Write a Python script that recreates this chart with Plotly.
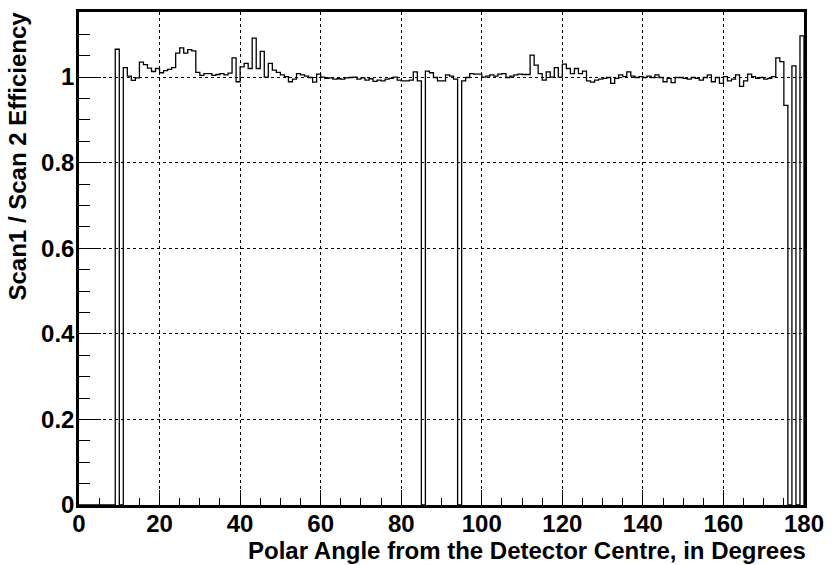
import plotly.graph_objects as go

# Bin lower edges (1 degree bins, 0..179)
bin_low = list(range(0, 180))
bin_width = 1.0

# Scan1 / Scan2 efficiency per 1-degree bin
efficiency = [
    0, 0, 0, 0, 0, 0, 0, 0, 0, 1.065,              # 0-9
    0, 1.022, 1.002, 0.992, 0.998, 1.035, 1.029, 1.021, 1.013, 1.020,   # 10-19
    1.010, 1.015, 1.018, 1.022, 1.056, 1.068, 1.056, 1.064, 1.061, 1.011,  # 20-29
    1.004, 1.008, 1.008, 1.004, 1.006, 1.008, 1.005, 1.009, 1.045, 0.989,  # 30-39
    1.024, 1.032, 1.020, 1.091, 1.020, 1.060, 1.000, 1.032, 1.016, 1.011,  # 40-49
    1.005, 1.001, 0.989, 0.995, 1.008, 1.005, 1.002, 0.999, 0.988, 1.007,  # 50-59
    1.000, 0.997, 0.998, 0.995, 0.996, 0.995, 0.998, 0.999, 1.000, 0.995,  # 60-69
    0.998, 0.993, 0.996, 0.990, 0.993, 0.991, 0.995, 0.997, 1.000, 0.993,  # 70-79
    0.991, 0.991, 0.993, 1.012, 0.991, 0, 1.014, 1.010, 0.999, 0.991,      # 80-89
    0.991, 1.005, 1.002, 0.995, 0, 0.991, 0.999, 1.008, 1.007, 1.007,      # 90-99
    1.000, 1.002, 1.005, 1.002, 1.007, 1.008, 0.999, 1.002, 1.005, 1.007,  # 100-109
    1.006, 1.006, 1.051, 1.028, 1.008, 0.993, 1.012, 1.000, 1.022, 1.000,  # 110-119
    1.030, 1.020, 1.008, 1.020, 1.008, 1.014, 0.991, 0.988, 0.993, 0.995,  # 120-129
    0.997, 0.999, 0.985, 0.997, 1.005, 1.001, 1.012, 1.002, 0.999, 1.001,  # 130-139
    0.999, 1.002, 0.999, 1.005, 0.999, 0.989, 0.997, 0.987, 0.999, 0.999,  # 140-149
    0.997, 0.995, 0.999, 0.997, 0.993, 0.999, 1.005, 0.989, 0.999, 0.985,  # 150-159
    1.001, 0.991, 0.995, 1.005, 0.978, 0.991, 1.007, 1.001, 0.997, 0.999,  # 160-169
    0.995, 0.997, 1.001, 1.045, 1.036, 0.934, 0, 1.026, 0, 1.096,          # 170-179
]

x_ticks = [0, 20, 40, 60, 80, 100, 120, 140, 160, 180]
y_ticks = [0, 0.2, 0.4, 0.6, 0.8, 1]
y_tick_text = ["0", "0.2", "0.4", "0.6", "0.8", "1"]

x_title = "Polar Angle from the Detector Centre, in Degrees"
y_title = "Scan1 / Scan 2 Efficiency"

# Step outline of the histogram
xs = [bin_low[0]] + [b for b in bin_low] + [bin_low[-1] + bin_width, bin_low[-1] + bin_width]
ys = [0] + list(efficiency) + [efficiency[-1], 0]

FONT = "Liberation Sans, Arial, sans-serif"

fig = go.Figure()
fig.add_trace(go.Scatter(
    x=xs, y=ys, mode="lines", line=dict(color="black", width=1.3, shape="hv"),
    hoverinfo="skip", showlegend=False,
))

axis_common = dict(
    showline=True, linecolor="black", linewidth=2.5, mirror=True,
    ticks="inside", tickcolor="black", tickwidth=1.3,
    showgrid=True, gridcolor="black", griddash="dot", gridwidth=1,
    zeroline=False,
    tickfont=dict(family=FONT, size=24, color="black", weight="bold"),
)

fig.update_xaxes(
    range=[0, 180], tickvals=x_ticks, ticklen=15,
    minor=dict(ticks="inside", dtick=5, tick0=0, ticklen=7, tickwidth=1.3,
               tickcolor="black", showgrid=False),
    ticklabelstandoff=-5,
    **axis_common,
)
fig.update_yaxes(
    range=[0, 1.152], tickvals=y_ticks, ticktext=y_tick_text, ticklen=22,
    minor=dict(ticks="inside", dtick=0.05, tick0=0, ticklen=11, tickwidth=1.3,
               tickcolor="black", showgrid=False),
    ticklabelstandoff=-3,
    **axis_common,
)

fig.add_annotation(
    text=x_title, xref="paper", yref="paper", x=1.0, y=0, xanchor="right",
    yanchor="middle", yshift=-45, xshift=4, showarrow=False,
    font=dict(family=FONT, size=24, color="black", weight="bold"),
)
fig.add_annotation(
    text=y_title, xref="paper", yref="paper", x=0, y=1.0, xanchor="center",
    yanchor="top", xshift=-62, yshift=2, textangle=-90, showarrow=False,
    font=dict(family=FONT, size=24, color="black", weight="bold"),
)

fig.update_layout(
    width=833, height=565,
    margin=dict(l=79, r=21, t=9, b=60),
    paper_bgcolor="white", plot_bgcolor="white",
    showlegend=False,
)

fig.write_html("out.html")
